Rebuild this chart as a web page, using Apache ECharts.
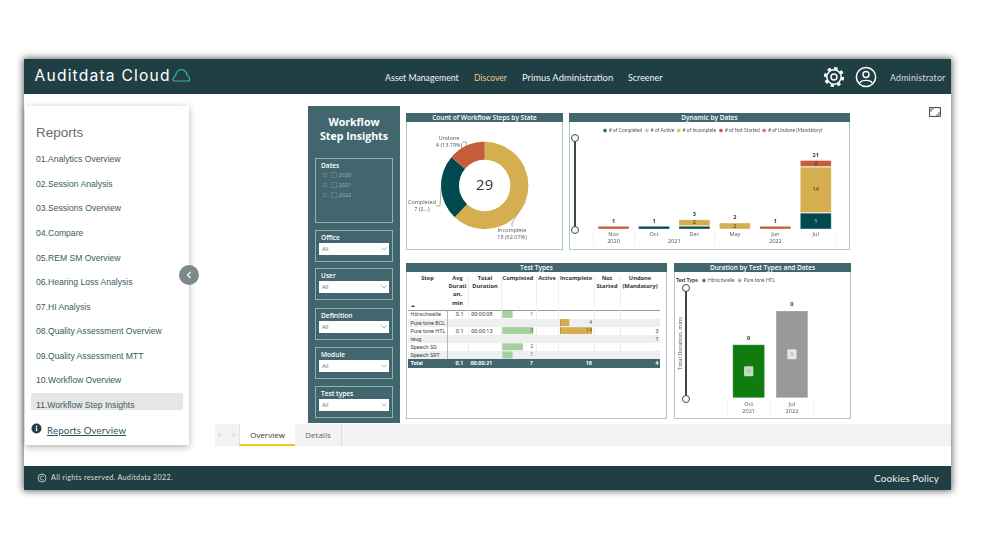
<!DOCTYPE html>
<html>
<head>
<meta charset="utf-8">
<title>Workflow Step Insights</title>
<script src="https://cdn.jsdelivr.net/npm/echarts@6/dist/echarts.min.js"></script>
<style>
  html, body { margin: 0; padding: 0; background: #fff; }
  #page { position: relative; width: 992px; height: 558px; overflow: hidden; font-family: "Open Sans", sans-serif; }
  #page div, #page svg { position: absolute; box-sizing: border-box; white-space: nowrap; }
  #chart { left: 0; top: 0; width: 992px; height: 558px; }
  .frame { left: 24px; top: 59px; width: 927px; height: 431px; background: #fff; box-shadow: 0 0 7px 1px rgba(0,0,0,.6); }
  .bar-dark { left: 24px; width: 927px; background: #1f3f45; }
  .nav { top: 71px; font: 9.6px/14px Lato, sans-serif; color: #f2f2f2; transform-origin: left center; }
  .side { left: 25px; top: 106px; width: 164px; height: 339px; background: #fff; box-shadow: 0 2px 7px rgba(0,0,0,.3); }
  .report { left: 36px; font: 8.6px/12px "Liberation Sans", sans-serif; color: #3a5a61; }
  .slicer-box { left: 315px; width: 78px; border: 1px solid #8fb0b5; }
  .slicer-name { left: 321px; font: 600 6.6px/9px "Open Sans", sans-serif; color: #fff; }
  .drop { left: 319px; width: 70px; height: 12px; background: #fff; font: 5.6px/12px "Open Sans", sans-serif; color: #666; padding-left: 3px; }
  .panel { border: 1px solid #a9c6c9; background: #fff; }
  .title { background: #41666e; color: #fff; font: 600 6.5px/9px "Open Sans", sans-serif; text-align: center; }
  .th { font: 700 5.7px/8.2px "Open Sans", sans-serif; color: #333; text-align: center; }
  .td { font: 5.5px/8px Roboto, sans-serif; color: #444; }
  .slider-line { width: 2px; background: #444; }
  .slider-dot { width: 8px; height: 8px; border: 1px solid #444; border-radius: 50%; background: #fff; }
</style>
</head>
<body>
<div id="page">
  <div class="frame"></div>
  <div class="bar-dark" style="top:59px;height:35px"></div>
  <div class="bar-dark" style="top:466px;height:24px"></div>

  <!-- 顶部 -->
  <div style="left:34.5px;top:66px;font:400 15.6px/20px Inter,sans-serif;color:#fff;letter-spacing:1.2px">Auditdata Cloud</div>
  <svg style="left:171px;top:67px" width="20" height="16" viewBox="0 0 20 16"><path d="M3 14 H17 C19 14 19.5 10 16.5 9 C16 4.5 12 1.5 8.5 3 C6 4 5 6 4.5 9 C2 10 1 14 3 14 Z" fill="none" stroke="#3bb39c" stroke-width="1.2"/></svg>
  <div class="nav" style="left:385px;transform:scaleX(.91)">Asset Management</div>
  <div class="nav" style="left:474px;color:#ecc88e;transform:scaleX(.89)">Discover</div>
  <div class="nav" style="left:521.5px;transform:scaleX(.98)">Primus Administration</div>
  <div class="nav" style="left:628px;transform:scaleX(.93)">Screener</div>
  <svg style="left:823px;top:66px" width="22" height="22" viewBox="0 0 22 22"><circle cx="11" cy="11" r="7.2" fill="none" stroke="#fff" stroke-width="1.5"/><circle cx="11" cy="11" r="8.8" fill="none" stroke="#fff" stroke-width="2.6" stroke-dasharray="3.4 3.5"/><circle cx="11" cy="11" r="3" fill="none" stroke="#fff" stroke-width="1.4"/></svg>
  <svg style="left:855px;top:66px" width="22" height="22" viewBox="0 0 22 22"><circle cx="11" cy="11" r="9.6" fill="none" stroke="#fff" stroke-width="1.5"/><circle cx="11" cy="8.5" r="3" fill="none" stroke="#fff" stroke-width="1.4"/><path d="M5 17 C6 13.5 16 13.5 17 17" fill="none" stroke="#fff" stroke-width="1.4"/></svg>
  <div style="left:890px;top:71px;font:8.8px/13px Lato,sans-serif;color:#ddd;letter-spacing:.2px">Administrator</div>

  <!-- 底部 -->
  <svg style="left:37px;top:473px" width="10" height="10" viewBox="0 0 10 10"><circle cx="5" cy="5" r="4" fill="none" stroke="#ddd" stroke-width=".8"/><path d="M6.6 3.6 A2 2 0 1 0 6.6 6.4" fill="none" stroke="#ddd" stroke-width=".8"/></svg>
  <div style="left:51px;top:472px;font:7.2px/12px Lato,sans-serif;color:#ddd;letter-spacing:.3px">All rights reserved. Auditdata 2022.</div>
  <div style="left:874px;top:471px;font:10px/14px Lato,sans-serif;color:#eee;letter-spacing:.1px">Cookies Policy</div>

  <!-- 左侧报表菜单 -->
  <div class="side"></div>
  <div style="left:36px;top:124px;font:13.5px/18px 'Liberation Sans',sans-serif;color:#6b6b6b">Reports</div>
  <div style="left:31px;top:393px;width:152px;height:17px;background:#e6e6e6;border-radius:2px 2px 0 0"></div>
  <div id="reports"></div>
  <svg style="left:31px;top:423px" width="11" height="11" viewBox="0 0 11 11"><circle cx="5.5" cy="5.5" r="5" fill="#1f3f45"/><rect x="4.9" y="4.6" width="1.3" height="3.6" fill="#fff"/><rect x="4.9" y="2.7" width="1.3" height="1.3" fill="#fff"/></svg>
  <div style="left:47px;top:424px;font:9.6px/14px Lato,sans-serif;color:#2f5057;text-decoration:underline;letter-spacing:.2px">Reports Overview</div>
  <div style="left:179px;top:265px;width:20px;height:20px;border-radius:50%;background:#7d8a8c"></div>
  <svg style="left:185px;top:271px" width="8" height="8" viewBox="0 0 8 8"><path d="M5.5 1 L2.5 4 L5.5 7" fill="none" stroke="#fff" stroke-width="1.2"/></svg>

  <!-- 筛选面板 -->
  <div style="left:308px;top:106px;width:92px;height:317px;background:#41666e"></div>
  <div style="left:308px;top:114.5px;width:92px;text-align:center;font:700 10.6px/14.5px 'Open Sans',sans-serif;color:#fff">Workflow<br>Step Insights</div>
  <div class="slicer-box" style="top:158px;height:65px"></div>
  <div class="slicer-name" style="top:161px">Dates</div>
  <div id="slicers"></div>

  <!-- 选项卡 -->
  <div style="left:215px;top:424px;width:736px;height:22px;background:#f3f3f3"></div>
  <div style="left:239px;top:424px;width:56px;height:22px;background:#fff;border-bottom:2.5px solid #f2c811;border-left:1px solid #e4e4e4;text-align:center;font:8px/22px 'Open Sans',sans-serif;color:#333">Overview</div>
  <div style="left:295px;top:424px;width:47px;height:22px;border-right:1px solid #ddd;text-align:center;font:8px/22px 'Open Sans',sans-serif;color:#666">Details</div>
  <svg style="left:217px;top:432px" width="20" height="6" viewBox="0 0 20 6"><path d="M3.5 1 L1.5 3 L3.5 5 M15.5 1 L17.5 3 L15.5 5" fill="none" stroke="#bbb" stroke-width=".8"/></svg>
  <svg style="left:929px;top:107px" width="12" height="10" viewBox="0 0 12 10"><rect x=".6" y=".6" width="10.8" height="8.8" fill="none" stroke="#444" stroke-width="1"/><path d="M2 5 V2 H5 M10 5 V8 H7" fill="none" stroke="#444" stroke-width=".8"/></svg>

  <!-- 图表面板 -->
  <div class="panel" style="left:406px;top:113px;width:157px;height:137px"></div>
  <div class="title" style="left:406px;top:113px;width:157px">Count of Workflow Steps by State</div>
  <div class="panel" style="left:569px;top:113px;width:281px;height:137px"></div>
  <div class="title" style="left:569px;top:113px;width:281px">Dynamic by Dates</div>
  <div class="panel" style="left:406px;top:263px;width:261px;height:156px"></div>
  <div class="title" style="left:406px;top:263px;width:261px">Test Types</div>
  <div class="panel" style="left:674px;top:263px;width:177px;height:156px"></div>
  <div class="title" style="left:674px;top:263px;width:177px">Duration by Test Types and Dates</div>
  <div id="table"></div>

  <div class="slider-line" style="left:573.5px;top:138px;height:92px"></div>
  <div class="slider-dot" style="left:570.5px;top:134px"></div>
  <div class="slider-dot" style="left:570.5px;top:225.5px"></div>
  <div class="slider-line" style="left:685px;top:288px;height:111px"></div>
  <div class="slider-dot" style="left:682px;top:284px"></div>
  <div class="slider-dot" style="left:682px;top:395px"></div>
  <div style="left:676px;top:275.5px;font:700 5.2px/8px Lato,sans-serif;color:#333">Test Type</div>

  <div id="chart"></div>
</div>

<script>
  // 菜单、筛选器
  const reportNames = ['01.Analytics Overview', '02.Session Analysis', '03.Sessions Overview', '04.Compare', '05.REM SM Overview', '06.Hearing Loss Analysis', '07.HI Analysis', '08.Quality Assessment Overview', '09.Quality Assessment MTT', '10.Workflow Overview', '11.Workflow Step Insights']
  const slicerNames = ['Office', 'User', 'Definition', 'Module', 'Test types']
  const dateYears = ['2020', '2021', '2022']

  // 环形图
  const stateNames = ['Incomplete', 'Completed', 'Undone']
  const stateCounts = [18, 7, 4]
  const stateLabels = ['18 (62.07%)', '7 (2...)', '4 (13.79%)']
  const stateTotal = '29'

  // 按日期的堆叠柱状图
  const dateMonths = ['Nov', 'Oct', 'Dec', 'May', 'Jun', 'Jul']
  const yearLabels = ['2020', '2021', '2022']
  const completedByDate = [null, 1, 1, null, null, 5]
  const activeByDate = [null, null, null, null, null, null]
  const incompleteByDate = [null, null, 2, 2, null, 14]
  const notStartedByDate = [null, null, null, null, null, null]
  const undoneByDate = [1, null, null, null, 1, 2]
  const totalsByDate = [1, 1, 3, 2, 1, 21]

  // 表格
  const stepNames = ['Hörschwelle', 'Pure tone BCL', 'Pure tone HTL', 'reug', 'Speech SD', 'Speech SRT']
  const stepAvg = ['0.1', '', '0.1', '', '', '']
  const stepDuration = ['00:00:08', '', '00:00:13', '', '', '']
  const stepCompleted = [1, null, 3, null, 2, 1]
  const stepIncomplete = [null, 4, 14, null, null, null]
  const stepUndone = [null, null, 3, 1, null, null]
  const tableTotals = ['0.1', '00:00:21', '7', '18', '4']

  // 时长柱状图（单位：分钟，标签四舍五入后为0）
  const durationMonths = ['Oct', 'Jul']
  const durationYears = ['2021', '2022']
  const hoerschwelleMins = [0.133, null]
  const pureToneHtlMins = [null, 0.217]
  const durationTotals = [0.133, 0.217]

  function el(parent, cls, style, text) {
    let d = document.createElement('div')
    d.className = cls
    d.style.cssText = style
    if (text !== undefined) d.textContent = text
    parent.appendChild(d)
    return d
  }

  // 菜单
  let reportsBox = document.getElementById('reports')
  reportNames.forEach(function (name, i) {
    el(reportsBox, 'report', 'top:' + (153.3 + i * 24.55) + 'px', name)
  })

  // 筛选器
  let slicerBox = document.getElementById('slicers')
  dateYears.forEach(function (year, i) {
    let top = 172 + i * 10.2
    el(slicerBox, '', 'left:323px;top:' + (top + 1) + 'px;width:4px;height:4px;border:1px solid #5b7d83')
    el(slicerBox, '', 'left:331px;top:' + top + 'px;width:6px;height:6px;border:1px solid #5b7d83')
    el(slicerBox, '', 'left:338.5px;top:' + (top - 1) + 'px;font:5.6px/8px "Open Sans",sans-serif;color:#9db5b9', year)
  })
  const slicerTops = [230, 268, 308, 347, 386]
  slicerNames.forEach(function (name, i) {
    let top = slicerTops[i]
    el(slicerBox, 'slicer-box', 'top:' + top + 'px;height:32px')
    el(slicerBox, 'slicer-name', 'top:' + (top + 2.5) + 'px', name)
    el(slicerBox, 'drop', 'top:' + (top + 13) + 'px', 'All')
    slicerBox.insertAdjacentHTML('beforeend', '<svg style="left:381px;top:' + (top + 17) + 'px" width="6" height="4" viewBox="0 0 6 4"><path d="M.5 .5 L3 3 L5.5 .5" fill="none" stroke="#888" stroke-width=".7"/></svg>')
  })

  // 表格文字，条形由下面的echarts绘制
  let tableBox = document.getElementById('table')
  const headers = [
    ['Step', 427.5, 20], ['Avg<br>Durati<br>on,<br>min', 457.5, 22], ['Total<br>Duration', 485, 32], ['Completed', 518, 36],
    ['Active', 547, 22], ['Incomplete', 576, 36], ['Not<br>Started', 607, 26], ['Undone<br>(Mandatory)', 640, 40]
  ]
  headers.forEach(function (h) {
    let d = el(tableBox, 'th', 'left:' + (h[1] - h[2] / 2) + 'px;top:274px;width:' + h[2] + 'px')
    d.innerHTML = h[0]
  })
  el(tableBox, '', 'left:411px;top:305px;width:0;height:0;border-left:2px solid transparent;border-right:2px solid transparent;border-bottom:2.5px solid #333')
  el(tableBox, '', 'left:408px;top:310px;width:252px;height:.7px;background:#999')
  const rowTop = 310.4
  const rowH = 8.1
  stepNames.forEach(function (name, i) {
    let top = rowTop + i * rowH
    if (i % 2 === 1) el(tableBox, '', 'left:408px;top:' + top + 'px;width:252px;height:' + rowH + 'px;background:#eeeff0')
    // 数据条左侧的深色起始线
    if (stepIncomplete[i] !== null) el(tableBox, '', 'left:559.6px;top:' + (top + .5) + 'px;width:1px;height:7px;background:#666')
  })
  // 竖向分隔线
  ;[447, 468, 501, 536, 558, 594, 620].forEach(function (x, i) {
    el(tableBox, '', 'left:' + x + 'px;top:' + (i === 0 ? 310 : 276) + 'px;width:' + (i === 0 ? 1 : .5) + 'px;height:' + (i === 0 ? 49 : 83) + 'px;background:' + (i === 0 ? '#b5b9bc' : '#eeeeee'))
  })
  stepNames.forEach(function (name, i) {
    let top = rowTop + i * rowH
    el(tableBox, 'td', 'left:410.5px;top:' + top + 'px', name)
    let rightCell = function (right, text) {
      if (text === null || text === '') return
      el(tableBox, 'td', 'left:' + (right - 40) + 'px;width:40px;text-align:right;top:' + top + 'px', text)
    }
    rightCell(463.5, stepAvg[i])
    rightCell(492.5, stepDuration[i])
    rightCell(658.5, stepUndone[i])
  })
  el(tableBox, '', 'left:408px;top:359px;width:252px;height:8.7px;background:#41666e')
  let totalTop = 359.4
  el(tableBox, 'td', 'left:410.5px;top:' + totalTop + 'px;color:#fff;font-weight:700', 'Total')
  ;[463.5, 492.5, 533, 592, 658.5].forEach(function (right, i) {
    el(tableBox, 'td', 'left:' + (right - 40) + 'px;width:40px;text-align:right;color:#fff;font-weight:700;top:' + totalTop + 'px', tableTotals[i])
  })

  // 图表
  let mychart = echarts.init(document.getElementById('chart'))
  const smallText = { fontSize: 5.6, color: '#555', fontFamily: 'Open Sans' }
  const legendText = { fontSize: 4.9, color: '#555', fontFamily: 'Lato', padding: [0, 0, 0, -3] }
  const lightEdge = 'rgba(255,255,255,.4)'
  const seriesColors = ['#004a4f', '#9cc5c1', '#d4ae4f', '#b83a1b', '#c55c3c']
  const stateColors = ['#d4ae4f', '#004a4f', '#c55c3c']
  // 环形图标签的摆放位置
  const pieLabelPlaces = [
    { x: 512, y: 234, align: 'center' },
    { x: 422, y: 206, align: 'center' },
    { x: 449, y: 142, align: 'center' }
  ]

  function stackBar(name, data, color, labelColor) {
    return {
      name: name,
      type: 'bar',
      stack: 'dates',
      xAxisIndex: 0,
      yAxisIndex: 0,
      barWidth: '78%',
      data: data,
      itemStyle: { color: color, borderColor: lightEdge, borderWidth: .7 },
      label: {
        show: true,
        fontSize: 5.6,
        color: labelColor,
        fontFamily: 'Open Sans',
        // 太矮的柱子不显示内部标签
        formatter: function (p) { return p.value >= 2 ? p.value : '' }
      }
    }
  }

  function durationBar(name, data, color) {
    return {
      name: name,
      type: 'bar',
      stack: 'duration',
      xAxisIndex: 2,
      yAxisIndex: 1,
      barWidth: '75%',
      data: data,
      itemStyle: { color: color, borderColor: lightEdge, borderWidth: .7 },
      label: {
        show: true,
        fontSize: 5.6,
        color: '#999',
        padding: [2, 3],
        borderRadius: 1,
        backgroundColor: 'rgba(255,255,255,.75)',
        formatter: function () { return '0' }
      }
    }
  }

  function tableBar(data, color, gridIndex) {
    return {
      type: 'bar',
      xAxisIndex: gridIndex + 1,
      yAxisIndex: gridIndex,
      data: data,
      barWidth: 7,
      itemStyle: { color: color },
      silent: true
    }
  }

  // 数字靠右对齐：在该列最大值处放一个不可见的点，并让标签向左展开
  function tableNumbers(values, gridIndex, max) {
    return {
      type: 'scatter',
      xAxisIndex: gridIndex + 1,
      yAxisIndex: gridIndex,
      symbolSize: 0,
      silent: true,
      data: values.map(function (v, i) { return v === null ? null : [max, stepNames[i], v] }),
      label: {
        show: true, position: 'left', distance: 0, fontSize: 5.5, color: '#444', fontFamily: 'Roboto',
        formatter: function (p) { return p.value[2] }
      }
    }
  }

  function hiddenValueAxis(gridIndex, max) {
    return { type: 'value', gridIndex: gridIndex, min: 0, max: max, show: false }
  }

  function tableCategoryAxis(gridIndex) {
    return {
      type: 'category', gridIndex: gridIndex, data: stepNames, inverse: true,
      axisLabel: { show: false }, axisTick: { show: false }, axisLine: { show: false }
    }
  }

  let option = {
    animation: false,
    textStyle: { fontFamily: 'Open Sans' },
    legend: [
      {
        data: ['# of Completed', '# of Active', '# of Incomplete', '# of Not Started', '# of Undone (Mandatory)'],
        left: 602, top: 127.5, itemWidth: 4, itemHeight: 4, itemGap: 1.5, icon: 'circle', padding: 0,
        textStyle: legendText
      },
      {
        data: ['Hörschwelle', 'Pure tone HTL'],
        left: 701, top: 277.5, itemWidth: 4, itemHeight: 4, itemGap: 2, icon: 'circle', padding: 0,
        textStyle: legendText
      }
    ],
    graphic: [{
      type: 'text', x: 484.7, y: 185.5,
      style: { text: stateTotal, fontSize: 15, fill: '#333', align: 'center', verticalAlign: 'middle', fontFamily: 'Open Sans' }
    }],
    grid: [
      { left: 593.3, width: 242.7, top: 137.2, height: 92.1 },
      { left: 727, width: 86.6, top: 289.2, height: 108.8 },
      { left: 502.3, width: 31, top: 310.4, height: 48.6 },
      { left: 560.3, width: 31.7, top: 310.4, height: 48.6 }
    ],
    xAxis: [
      {
        type: 'category', gridIndex: 0, data: dateMonths,
        axisLine: { show: false }, axisTick: { show: false },
        axisLabel: Object.assign({ margin: 2.5 }, smallText)
      },
      // 年份这一层用数值轴，刻度就是年与年之间的分隔线
      {
        type: 'value', gridIndex: 0, position: 'bottom', min: 0, max: 6,
        splitLine: { show: false }, axisLine: { show: false },
        axisTick: { show: true, customValues: [0, 1, 3, 6], length: 16, inside: false, lineStyle: { color: '#ddd', type: 'dotted', width: .7 } },
        axisLabel: Object.assign({
          margin: 9,
          customValues: [0.5, 2, 4.5],
          formatter: function (v) { return yearLabels[[0.5, 2, 4.5].indexOf(v)] || '' }
        }, smallText)
      },
      {
        type: 'category', gridIndex: 1, data: durationMonths,
        axisLine: { show: false },
        axisTick: { show: true, length: 16, lineStyle: { color: '#ddd', type: 'dotted', width: .7 } },
        axisLabel: Object.assign({
          margin: 2.5, lineHeight: 7.2,
          formatter: function (v, i) { return v + '\n' + durationYears[i] }
        }, smallText)
      },
      hiddenValueAxis(2, 3),
      hiddenValueAxis(3, 14)
    ],
    yAxis: [
      { type: 'value', gridIndex: 0, min: 0, max: 28, show: false },
      {
        type: 'value', gridIndex: 1, min: 0, max: 0.27,
        name: 'Total Duration, mins', nameLocation: 'middle', nameGap: 44,
        nameTextStyle: smallText,
        axisLine: { show: false }, axisTick: { show: false }, axisLabel: { show: false }, splitLine: { show: false }
      },
      tableCategoryAxis(2),
      tableCategoryAxis(3)
    ],
    series: [
      {
        type: 'pie',
        radius: [25.7, 43.7],
        center: [484.7, 185.5],
        startAngle: 90,
        percentPrecision: 2,
        data: stateNames.map(function (name, i) {
          return { name: name, value: stateCounts[i], itemStyle: { color: stateColors[i] } }
        }),
        label: {
          fontSize: 5.5, color: '#555', lineHeight: 7, align: 'center',
          formatter: function (p) { return p.name + '\n' + stateLabels[p.dataIndex] }
        },
        labelLine: { length: 4, length2: 4, lineStyle: { color: '#888', width: .7 } },
        labelLayout: function (p) { return pieLabelPlaces[p.dataIndex] }
      },
      stackBar('# of Completed', completedByDate, seriesColors[0], '#9fb8ba'),
      stackBar('# of Active', activeByDate, seriesColors[1], '#333'),
      stackBar('# of Incomplete', incompleteByDate, seriesColors[2], '#333'),
      stackBar('# of Not Started', notStartedByDate, seriesColors[3], '#333'),
      stackBar('# of Undone (Mandatory)', undoneByDate, seriesColors[4], '#333'),
      // 柱顶的合计标签
      {
        type: 'line', xAxisIndex: 0, yAxisIndex: 0, data: totalsByDate,
        symbolSize: 0, lineStyle: { opacity: 0 }, silent: true,
        label: { show: true, position: 'top', distance: 2, fontSize: 5.6, fontWeight: 'bold', color: '#333' }
      },
      durationBar('Hörschwelle', hoerschwelleMins, '#107c10'),
      durationBar('Pure tone HTL', pureToneHtlMins, '#999999'),
      {
        type: 'line', xAxisIndex: 2, yAxisIndex: 1, data: durationTotals,
        symbolSize: 0, lineStyle: { opacity: 0 }, silent: true,
        label: { show: true, position: 'top', distance: 3, fontSize: 5.6, fontWeight: 'bold', color: '#333', formatter: function () { return '0' } }
      },
      tableBar(stepCompleted, '#a6d0a0', 2),
      tableBar(stepIncomplete, '#d4ae4f', 3),
      tableNumbers(stepCompleted, 2, 3),
      tableNumbers(stepIncomplete, 3, 14)
    ]
  }
  mychart.setOption(option)
</script>
</body>
</html>
